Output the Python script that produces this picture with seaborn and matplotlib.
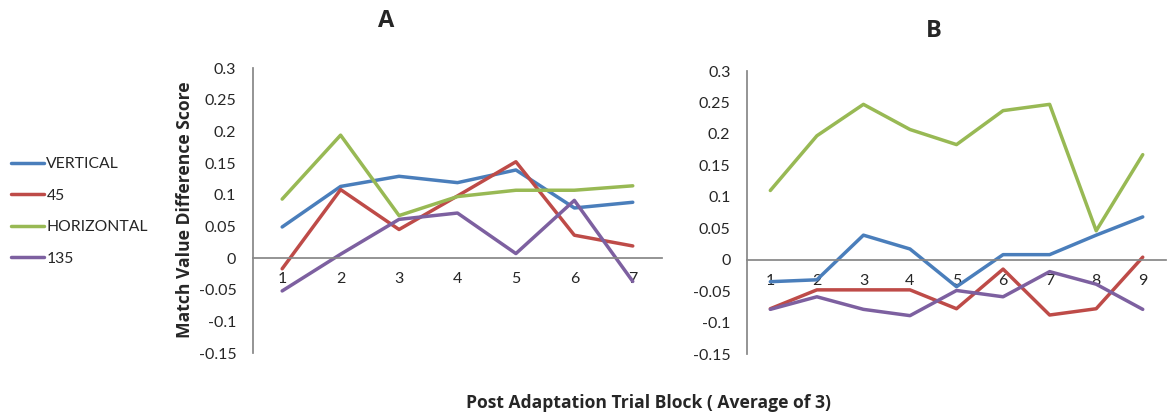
import pandas as pd
import matplotlib
matplotlib.use("Agg")
import matplotlib.pyplot as plt
import seaborn as sns
import numpy as np

sns.set_theme(style="white")
plt.rcParams['font.family'] = ['Lato', 'DejaVu Sans']

# dati
series = ["VERTICAL", "45", "HORIZONTAL", "135"]
blocks_a = [1, 2, 3, 4, 5, 6, 7]
blocks_b = [1, 2, 3, 4, 5, 6, 7, 8, 9]

vertical_a = [0.049, 0.113, 0.129, 0.119, 0.139, 0.079, 0.088]
deg45_a = [-0.017, 0.108, 0.045, 0.098, 0.152, 0.036, 0.019]
horizontal_a = [0.093, 0.194, 0.067, 0.097, 0.107, 0.107, 0.114]
deg135_a = [-0.052, 0.006, 0.061, 0.071, 0.007, 0.091, -0.037]

vertical_b = [-0.035, -0.032, 0.039, 0.017, -0.043, 0.008, 0.008, 0.039, 0.068]
deg45_b = [-0.078, -0.048, -0.048, -0.048, -0.078, -0.015, -0.088, -0.078, 0.004]
horizontal_b = [0.110, 0.197, 0.247, 0.207, 0.183, 0.237, 0.247, 0.046, 0.167]
deg135_b = [-0.079, -0.059, -0.079, -0.089, -0.049, -0.059, -0.019, -0.039, -0.079]

yticks = [-0.15, -0.1, -0.05, 0, 0.05, 0.1, 0.15, 0.2, 0.25, 0.3]
ytick_labels = ["-0.15", "-0.1", "-0.05", "0", "0.05", "0.1", "0.15", "0.2", "0.25", "0.3"]

palette = {"VERTICAL": "#4A7EBB", "45": "#BE4B48", "HORIZONTAL": "#98B954", "135": "#7D60A0"}
grey = "#868686"


def to_long(blocks, values):
    rows = []
    for name, vals in zip(series, values):
        for b, v in zip(blocks, vals):
            rows.append({"block": b, "score": v, "series": name})
    return pd.DataFrame(rows)


df_a = to_long(blocks_a, [vertical_a, deg45_a, horizontal_a, deg135_a])
df_b = to_long(blocks_b, [vertical_b, deg45_b, horizontal_b, deg135_b])

fig = plt.figure(figsize=(11.7, 4.18), dpi=100)
ax_a = fig.add_axes([0.2162, 0.1555, 0.3496, 0.6818])
ax_b = fig.add_axes([0.6385, 0.1531, 0.3581, 0.6770])


def style_axis(ax, df, blocks, title, title_xy):
    sns.lineplot(data=df, x="block", y="score", hue="series", hue_order=series,
                 palette=palette, linewidth=2.5, sort=False, legend=False, ax=ax)
    n = len(blocks)
    ax.set_xlim(0.5, n + 0.5)
    ax.set_ylim(-0.15, 0.3)
    for s in ["top", "right"]:
        ax.spines[s].set_visible(False)
    ax.spines["left"].set_color(grey)
    ax.spines["bottom"].set_color(grey)
    ax.spines["bottom"].set_position(("data", 0))
    ax.set_yticks(yticks)
    ax.set_yticklabels(ytick_labels)
    # tacche ai confini delle categorie, etichette al centro
    ax.set_xticks(np.arange(0.5, n + 1, 1.0))
    ax.set_xticklabels([])
    ax.set_xticks(blocks, minor=True)
    ax.set_xticklabels([str(b) for b in blocks], minor=True)
    ax.tick_params(axis="x", which="major", direction="out", length=5, color=grey, width=1)
    ax.tick_params(axis="x", which="minor", length=0, pad=10, labelsize=11.5, labelcolor="#262626")
    ax.tick_params(axis="y", direction="out", length=5, color=grey, width=1, pad=7,
                   labelsize=11.5, labelcolor="#262626")
    ax.set_xlabel("")
    ax.set_ylabel("")
    fig.text(title_xy[0], title_xy[1], title, fontsize=17, fontweight="bold",
             ha="center", va="center", family=["Open Sans", "DejaVu Sans"])


style_axis(ax_a, df_a, blocks_a, "A", (386 / 1170, 1 - 21 / 418))
style_axis(ax_b, df_b, blocks_b, "B", (934 / 1170, 1 - 31 / 418))

fig.text(185 / 1170, 1 - 210 / 418, "Match Value Difference Score", rotation=90,
         fontsize=12.6, fontweight="bold", ha="center", va="center",
         family=["Open Sans", "DejaVu Sans"])
fig.text(648 / 1170, 1 - 403 / 418, "Post Adaptation Trial Block ( Average of 3)",
         fontsize=12.6, fontweight="bold", ha="center", va="center",
         family=["Open Sans", "DejaVu Sans"])

handles = ax_a.get_lines()[:len(series)]
fig.legend(handles=handles, labels=series, loc="upper left",
           bbox_to_anchor=(-3 / 1170, 1 - 143 / 418), frameon=False,
           fontsize=11.3, handlelength=2.1, handletextpad=0.15, labelspacing=1.12,
           labelcolor="#262626")

fig.savefig("out.png", dpi=100)
